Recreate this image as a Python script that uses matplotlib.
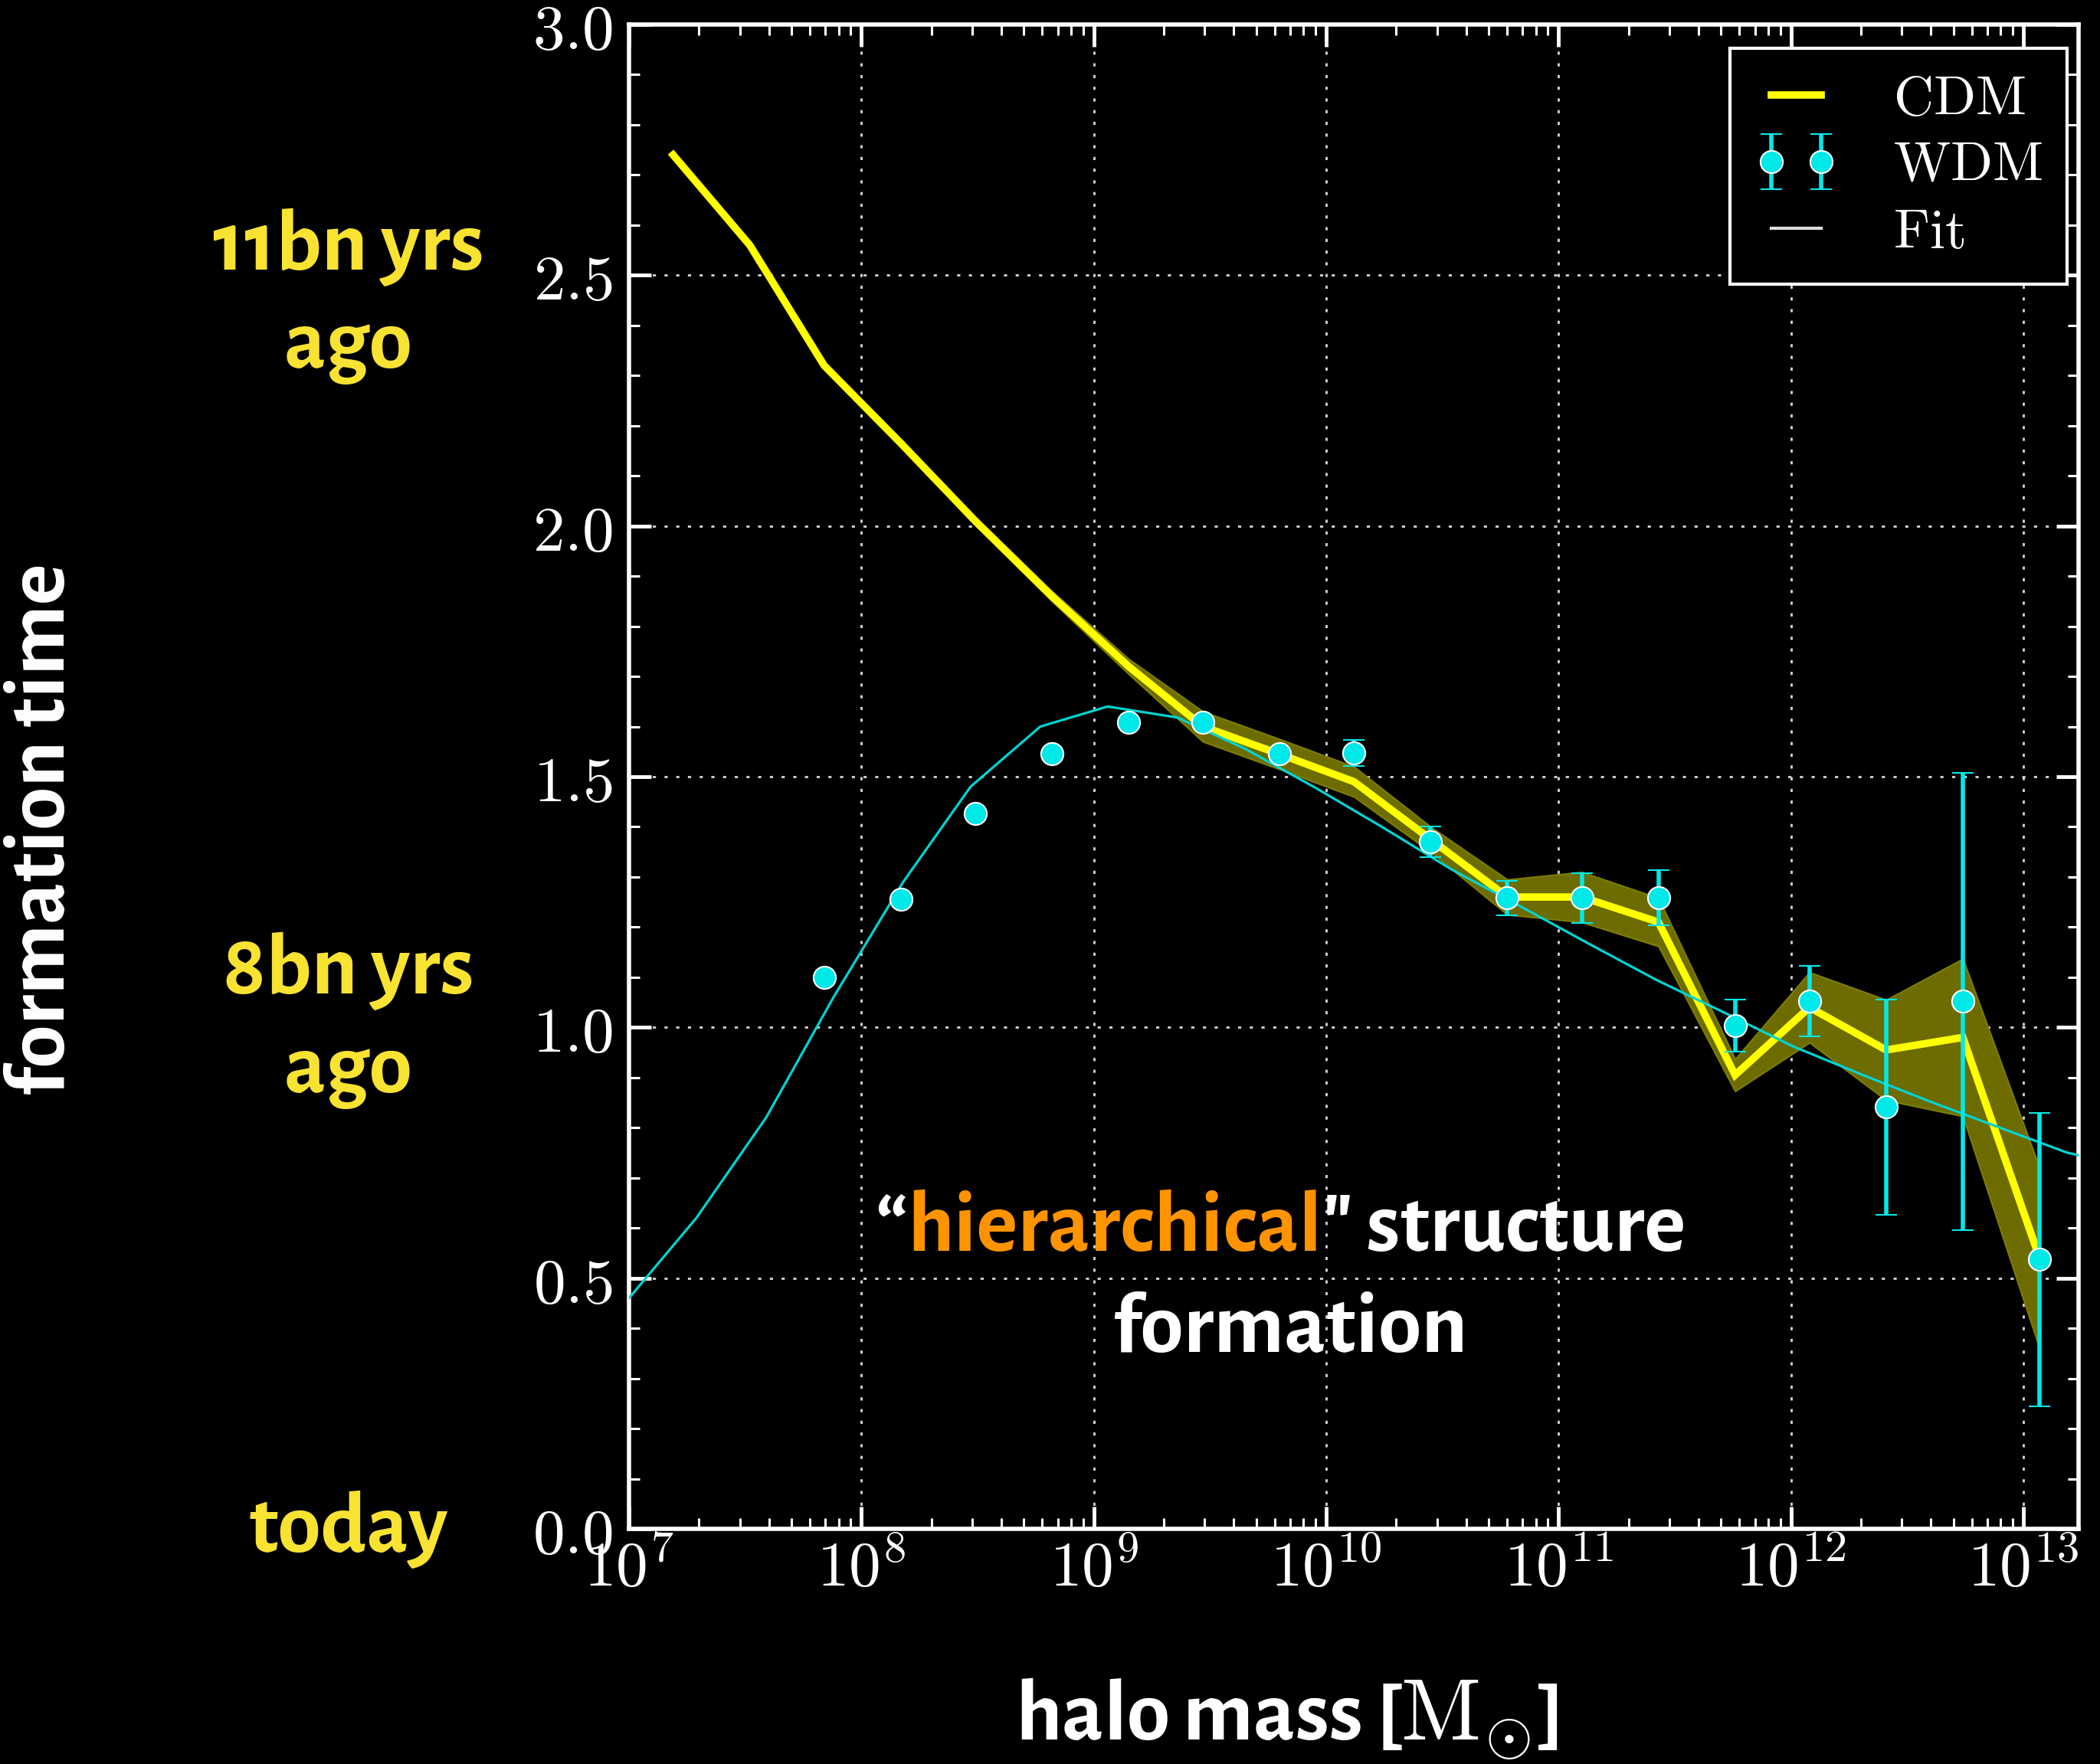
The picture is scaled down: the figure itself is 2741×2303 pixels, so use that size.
import numpy as np
import matplotlib.pyplot as plt
from matplotlib.lines import Line2D
from matplotlib.ticker import FuncFormatter, LogLocator, MultipleLocator, NullFormatter

plt.rcParams['mathtext.fontset'] = 'cm'

# Colors
C_CDM = "#ffff00"
C_BAND = "#6c6c00"
C_WDM = "#00e8e8"
C_FIT = "#00d4d4"
C_YEL_TXT = "#f8e232"
C_ORANGE = "#ff9300"
FONT = ["Alegreya Sans", "DejaVu Sans"]

# Data (log10 halo mass, formation time)
mass_log = [7.19, 7.52, 7.84, 8.17, 8.49, 8.82, 9.15, 9.47, 9.80, 10.12,
            10.45, 10.78, 11.10, 11.43, 11.76, 12.08, 12.41, 12.74, 13.07]
cdm_time = [2.74, 2.56, 2.32, 2.165, 2.01, 1.86, 1.72, 1.60, 1.545, 1.49,
            1.375, 1.26, 1.26, 1.21, 0.905, 1.04, 0.955, 0.98, 0.54]
cdm_err = [0.005, 0.005, 0.005, 0.005, 0.008, 0.01, 0.015, 0.03, 0.03, 0.03,
           0.025, 0.035, 0.05, 0.048, 0.032, 0.07, 0.10, 0.157, 0.18]

wdm_log = [7.84, 8.17, 8.49, 8.82, 9.15, 9.47, 9.80, 10.12, 10.45, 10.78,
           11.10, 11.43, 11.76, 12.08, 12.41, 12.74, 13.07]
wdm_time = [1.10, 1.256, 1.426, 1.546, 1.609, 1.608, 1.546, 1.547, 1.370, 1.258,
            1.258, 1.258, 1.004, 1.052, 0.841, 1.052, 0.537]
wdm_err = [0, 0, 0, 0, 0, 0, 0, 0.026, 0.03, 0.035,
           0.05, 0.055, 0.052, 0.07, 0.214, 0.456, 0.293]

fit_log = [7.00, 7.29, 7.59, 7.88, 8.18, 8.47, 8.77, 9.06, 9.36, 9.65, 9.95,
           10.24, 10.54, 10.83, 11.13, 11.42, 11.72, 12.01, 12.31, 12.60,
           12.90, 13.19, 13.24]
fit_time = [0.46, 0.62, 0.82, 1.06, 1.29, 1.48, 1.60, 1.64, 1.618, 1.556, 1.479,
            1.40, 1.315, 1.243, 1.167, 1.095, 1.028, 0.962, 0.905, 0.852,
            0.800, 0.750, 0.745]

x_lim_log = (7.0, 13.238)

m = 10 ** np.array(mass_log)
cdm = np.array(cdm_time)
cerr = np.array(cdm_err)

fig = plt.figure(figsize=(27.41, 23.03), dpi=100, facecolor="black")
ax = fig.add_axes([0.2995, 0.1333, 0.6903, 0.8528])
ax.set_facecolor("black")

# CDM band + line
ax.fill_between(m, cdm - cerr, cdm + cerr, facecolor=C_BAND, edgecolor="#7d7d00",
                linewidth=1.5, zorder=2)
ax.plot(m, cdm, color=C_CDM, lw=7, solid_joinstyle="miter", zorder=3)

# Fit
ax.plot(10 ** np.array(fit_log), fit_time, color=C_FIT, lw=2.3, zorder=4)

# WDM points
wdm = ax.errorbar(10 ** np.array(wdm_log), wdm_time, yerr=wdm_err, fmt="o",
                  color=C_WDM, ms=21, mfc=C_WDM, mec="white", mew=1.5,
                  ecolor=C_WDM, elinewidth=4, capsize=10, capthick=4, zorder=5)

# Axes
ax.set_xscale("log")
ax.set_xlim(10 ** x_lim_log[0], 10 ** x_lim_log[1])
ax.set_ylim(0, 3)
ax.xaxis.set_major_locator(LogLocator(base=10, numticks=20))
ax.xaxis.set_minor_locator(LogLocator(base=10, subs=range(2, 10), numticks=100))
ax.xaxis.set_minor_formatter(NullFormatter())
ax.xaxis.set_major_formatter(FuncFormatter(lambda v, p: r"$10^{%d}$" % round(np.log10(v))))
ax.yaxis.set_major_locator(MultipleLocator(0.5))
ax.yaxis.set_minor_locator(MultipleLocator(0.1))
ax.yaxis.set_major_formatter(FuncFormatter(lambda v, p: r"$%.1f$" % v))

ax.tick_params(which="both", direction="in", top=True, right=True,
               colors="white", labelcolor="white")
ax.tick_params(which="major", length=21, width=3.5, labelsize=60)
ax.tick_params(which="minor", length=10, width=2.2)
ax.tick_params(axis="y", pad=15)
ax.tick_params(axis="x", pad=8)
for s in ax.spines.values():
    s.set_color("white")
    s.set_linewidth(4)
ax.grid(True, which="major", color="#d8d8d8", lw=2, linestyle=(0, (1.5, 4)))

# Legend
h_cdm = Line2D([], [], color=C_CDM, lw=7)
h_fit = Line2D([], [], color="#dddddd", lw=3)
leg = ax.legend([h_cdm, wdm, h_fit],
                [r"$\mathrm{CDM}$", r"$\mathrm{WDM}$", r"$\mathrm{Fit}$"],
                loc="upper right", bbox_to_anchor=(0.9921, 0.9842), borderaxespad=0,
                fontsize=52, numpoints=2, frameon=True, fancybox=False,
                facecolor="black", edgecolor="white", framealpha=1,
                handlelength=1.5, handletextpad=1.0, labelspacing=0.25, borderpad=0.45)
leg.get_frame().set_linewidth(3)
for t in leg.get_texts():
    t.set_color("white")

# Side annotations
txt = dict(family=FONT, weight="bold", fontsize=82)
for y, s in [(0.847, "11bn yrs"), (0.7916, "ago"), (0.4368, "8bn yrs"),
             (0.381, "ago"), (0.1207, "today")]:
    fig.text(0.166, y, s, ha="center", va="baseline", color=C_YEL_TXT, **txt)

fig.text(0.020, 0.5297, "formation time", rotation=90, ha="center", va="center",
         color="white", **txt)
fig.text(0.6126, 0.013, r"halo mass [$\mathrm{M}_{\odot}$]", ha="center",
         va="baseline", color="white", **txt)

# "hierarchical" structure formation
t1 = fig.text(0.4166, 0.2909, "\u201c", ha="left", va="baseline", color="white", **txt)
t2 = ax.annotate("hierarchical", xy=(1, 0), xycoords=t1, ha="left", va="bottom",
                 color=C_ORANGE, **txt)
t3 = ax.annotate("\" structure", xy=(1, 0), xycoords=t2, ha="left", va="bottom",
                 color="white", **txt)
fig.text(0.614, 0.2336, "formation", ha="center", va="baseline", color="white", **txt)

fig.savefig("out.png", dpi=100, facecolor="black")
